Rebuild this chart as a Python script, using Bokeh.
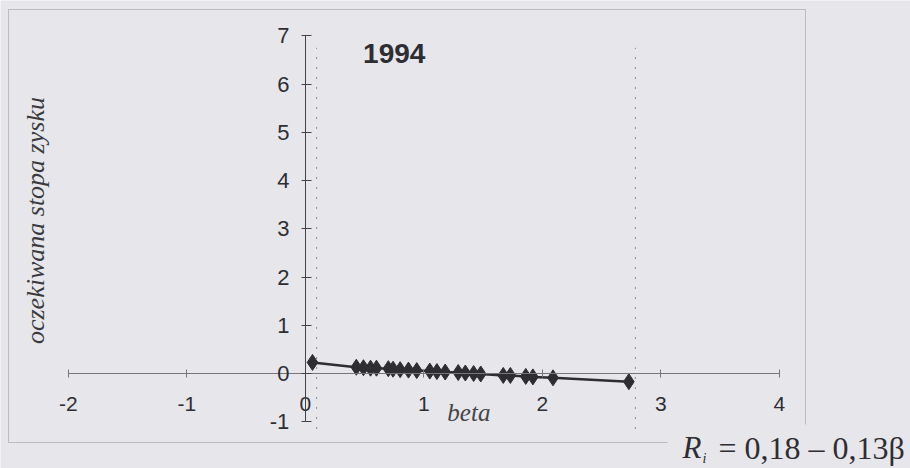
import numpy as np
from bokeh.plotting import figure
from bokeh.models import Range1d, FixedTicker, Label, ColumnDataSource, BoxAnnotation
from bokeh.embed import file_html
from bokeh.resources import INLINE

# data
betas = [0.06, 0.43, 0.49, 0.55, 0.60, 0.70, 0.74, 0.80, 0.87, 0.94, 1.05, 1.11,
         1.18, 1.29, 1.35, 1.42, 1.48, 1.67, 1.73, 1.86, 1.92, 2.09, 2.73]
returns = [0.23, 0.13, 0.12, 0.11, 0.11, 0.10, 0.09, 0.08, 0.07, 0.06, 0.05, 0.04,
           0.03, 0.02, 0.01, 0.00, -0.01, -0.04, -0.04, -0.06, -0.07, -0.09, -0.17]
x_ticks = [-2, -1, 0, 1, 2, 3, 4]
y_ticks = [-1, 0, 1, 2, 3, 4, 5, 6, 7]
title_text = "1994"
x_title = "beta"
y_title = "oczekiwana stopa zysku"

BG = "#e7e7eb"
INK = "#2e2e32"

p = figure(width=910, height=468, output_backend="svg", toolbar_location=None,
           x_range=Range1d(-2.573, 5.107), y_range=Range1d(-1.969, 7.731),
           min_border=0)
p.background_fill_color = BG
p.border_fill_color = BG
p.outline_line_color = None
p.grid.visible = False

ax = p.xaxis[0]
ax.fixed_location = 0
ax.bounds = (-2, 4)
ax.ticker = FixedTicker(ticks=x_ticks)
ax.major_label_overrides = {t: str(t) for t in x_ticks}
ax.minor_tick_line_color = None
ax.major_tick_in = 4
ax.major_tick_out = 4
ax.axis_line_color = "#76767a"
ax.major_tick_line_color = "#76767a"
ax.major_label_standoff = 19
ax.major_label_text_font = "Liberation Sans"
ax.major_label_text_font_size = "21px"
ax.major_label_text_color = INK

ay = p.yaxis[0]
ay.fixed_location = 0
ay.bounds = (-1, 7)
ay.ticker = FixedTicker(ticks=y_ticks)
ay.major_label_overrides = {t: str(t) for t in y_ticks}
ay.minor_tick_line_color = None
ay.major_tick_in = 6
ay.major_tick_out = 4
ay.axis_line_color = "#444448"
ay.major_tick_line_color = "#444448"
ay.major_label_standoff = 12
ay.major_label_text_font = "Liberation Sans"
ay.major_label_text_font_size = "22px"
ay.major_label_text_color = INK

# chart border (text-box frame)
p.add_layout(BoxAnnotation(left=8, right=805, bottom=26, top=459,
                           left_units="screen", right_units="screen",
                           bottom_units="screen", top_units="screen",
                           fill_color=None, line_color="#5a5a5e", line_width=1))

# faint dotted verticals at min and max beta
p.segment(x0=[betas[0] + 0.035, max(betas) + 0.055], x1=[betas[0] + 0.035, max(betas) + 0.055],
          y0=[-1.15, -1.15], y1=[6.75, 6.75], line_color="#8a8a8e", line_dash="2 8", line_width=1)

src = ColumnDataSource(dict(x=betas, y=returns))
p.line("x", "y", source=src, line_color=INK, line_width=2.5)
p.scatter("x", "y", source=src, marker="diamond", size=16, fill_color=INK, line_color=INK)

p.add_layout(Label(x=0.75, y=6.63, text=title_text, text_font="Liberation Sans",
                   text_font_style="bold", text_font_size="28px", text_color=INK,
                   text_align="center", text_baseline="middle"))
p.add_layout(Label(x=1.38, y=-0.8, text=x_title, text_font="Liberation Serif",
                   text_font_style="italic", text_font_size="25px", text_color="#444448",
                   text_align="center", text_baseline="middle"))
p.add_layout(Label(x=-2.28, y=3.17, text=y_title, text_font="Liberation Serif",
                   text_font_style="italic", text_font_size="26px", text_color="#3a3a3e",
                   text_align="center", text_baseline="middle", angle=np.pi / 2))

# formula text box overlapping the frame corner
p.add_layout(BoxAnnotation(left=667, right=910, bottom=0, top=44,
                           left_units="screen", right_units="screen",
                           bottom_units="screen", top_units="screen",
                           fill_color=BG, fill_alpha=1.0, line_color=None, level="overlay"))
p.add_layout(Label(x=682, y=21, x_units="screen", y_units="screen", text="R",
                   text_font="Liberation Serif", text_font_style="italic",
                   text_font_size="31px", text_color=INK, text_baseline="middle",
                   level="overlay"))
p.add_layout(Label(x=702, y=10, x_units="screen", y_units="screen", text="i",
                   text_font="Liberation Serif", text_font_style="italic",
                   text_font_size="14px", text_color=INK, text_baseline="middle",
                   level="overlay"))
p.add_layout(Label(x=718, y=21, x_units="screen", y_units="screen", text="= 0,18 – 0,13β",
                   text_font="Liberation Serif", text_font_size="32px", text_color=INK,
                   text_baseline="middle", level="overlay"))

open("out.html", "w").write(file_html(p, INLINE))
